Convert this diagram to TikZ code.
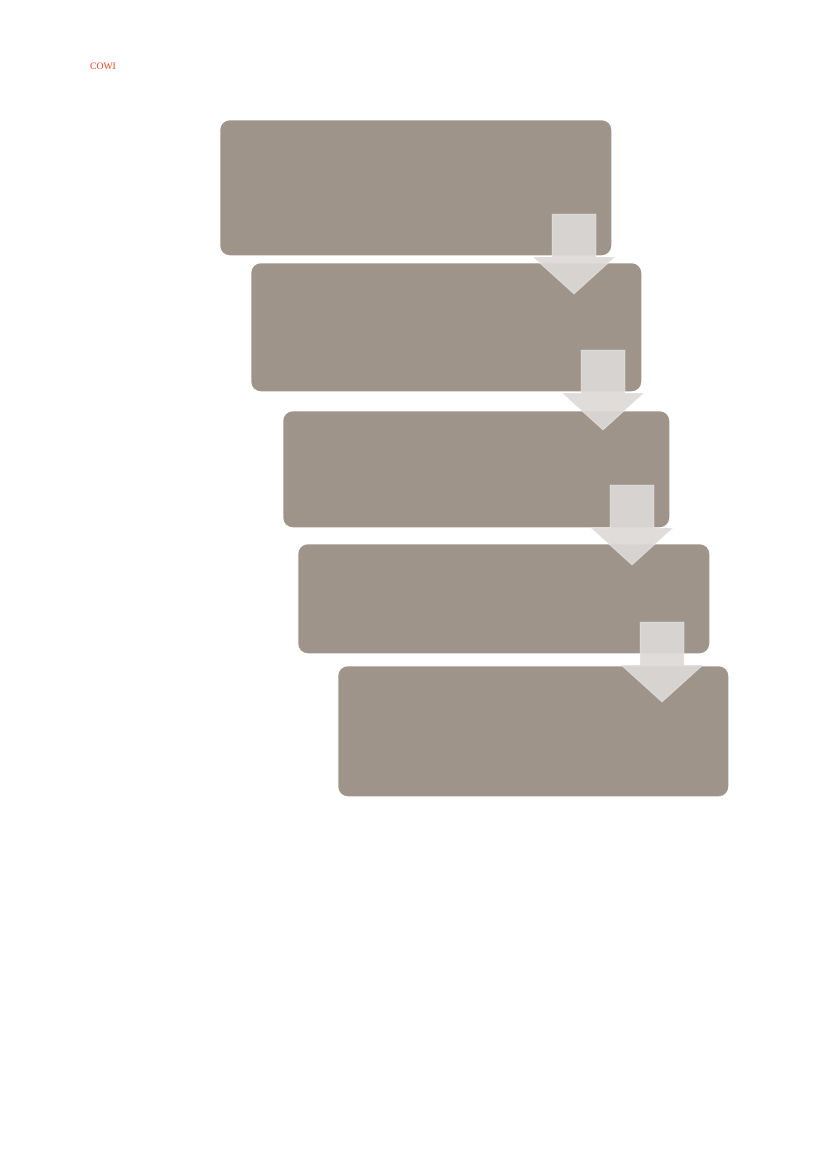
\documentclass[tikz,border=0pt]{standalone}
\usepackage{fontspec}
\setmainfont{Liberation Serif}
\usepackage{tikz}
\usetikzlibrary{positioning}
\definecolor{boxgray}{HTML}{9E948A}
\definecolor{arrowgray}{HTML}{DCD9D6}
\definecolor{cowired}{HTML}{E8431B}
\def\u{0.7195pt}
\begin{document}
\begin{tikzpicture}[x=\u,y=-\u,
  box/.style={fill=boxgray,rounded corners=7pt,anchor=north west,inner sep=0pt},
  downarrow/.style={fill=arrowgray,fill opacity=0.92,draw=white,draw opacity=0.35,line width=0.6pt}]
\useasboundingbox (0,0) rectangle (827,1170);
\node[text=cowired,font=\fontsize{7}{8}\selectfont] (logo) at (103,66) {COWI};
% boxes
\node[box,minimum width=391*\u,minimum height=135*\u] (s1) at (220,120) {};
\node[box,minimum width=390*\u,minimum height=128*\u] (s2) at (251,263) {};
\node[box,minimum width=386*\u,minimum height=116*\u] (s3) at (283,411) {};
\node[box,minimum width=411*\u,minimum height=109*\u] (s4) at (298,544) {};
\node[box,minimum width=390*\u,minimum height=130*\u] (s5) at (338,666) {};
% arrows between the boxes
\foreach \cx/\ty in {574/214,603/350,632/485,662/622}
  \path[downarrow] (\cx-22,\ty) -- (\cx+22,\ty) -- (\cx+22,\ty+43) -- (\cx+41,\ty+43)
    -- (\cx,\ty+80) -- (\cx-41,\ty+43) -- (\cx-22,\ty+43) -- cycle;
\end{tikzpicture}
\end{document}
